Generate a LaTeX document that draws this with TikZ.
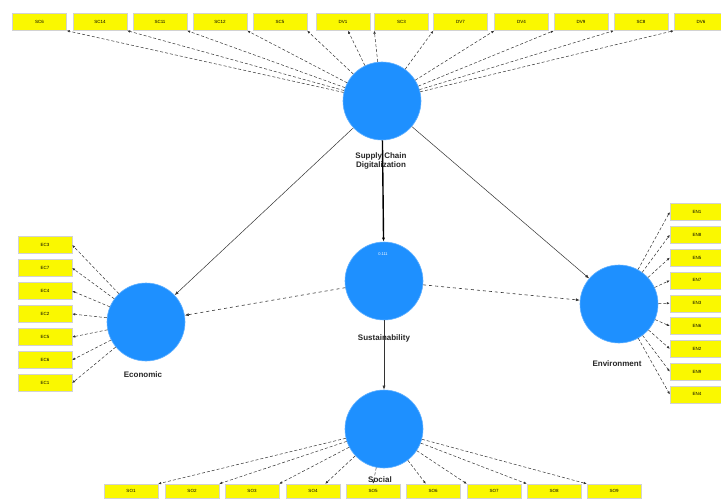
\documentclass[tikz,border=0pt]{standalone}
\usepackage{fontspec}
\setmainfont{Liberation Sans}
\usetikzlibrary{arrows.meta}
\definecolor{lvblue}{RGB}{30,144,255}
\definecolor{indyellow}{RGB}{250,248,0}
\begin{document}
\begin{tikzpicture}[x=1pt,y=-1pt,
  latent/.style={circle,fill=lvblue,draw=lvblue!70!white,line width=0.6pt,minimum size=78pt,inner sep=0pt},
  ind/.style={rectangle,fill=indyellow,draw=gray!35,line width=0.4pt,minimum width=54pt,minimum height=17pt,inner sep=0pt,font=\fontsize{4.5}{5}\selectfont},
  lvlabel/.style={font=\fontsize{8}{9.5}\selectfont\bfseries,align=center,text=black!85},
  load/.style={-{Latex[length=3pt,width=2.5pt]},densely dashed,line width=0.5pt,black!80},
  struct/.style={-{Latex[length=4pt,width=3pt]},line width=0.5pt,black!80},
  structdash/.style={-{Latex[length=4pt,width=3pt]},dashed,line width=0.6pt,black!80}
]
\useasboundingbox (0,0) rectangle (721,500);
\fill[white] (0,0) rectangle (721,500);

% latent variables
\node[latent] (scd) at (382,101) {};
\node[latent] (sus) at (384,281) {};
\node[latent] (eco) at (146,322) {};
\node[latent] (env) at (619,304) {};
\node[latent] (soc) at (384,429) {};

\node[font=\fontsize{4}{4}\selectfont,text=white] (r2) at (383,254) {0.111};

% top indicators
\foreach \lab/\xx [count=\i] in {SC6/39.5,SC14/100,SC11/160,SC12/220,SC5/280,DV1/343,SC3/401.5,DV7/460.5,DV4/521.5,DV9/581,SC8/641,DV6/701}{
  \node[ind] (t\i) at (\xx,22) {\lab};
}
\foreach \i in {1,...,5}{\draw[load] (scd) -- (t\i.south east);}
\draw[load] (scd) -- ([xshift=5pt]t6.south);
\foreach \i in {7,...,12}{\draw[load] (scd) -- (t\i.south west);}

% left indicators
\foreach \lab [count=\i] in {EC3,EC7,EC4,EC2,EC5,EC6,EC1}{
  \node[ind] (l\i) at (45,{245+23*(\i-1)}) {\lab};
}
\foreach \i in {1,...,7}{\draw[load] (eco) -- (l\i.east);}

% right indicators
\foreach \lab [count=\i] in {EN1,EN8,EN5,EN7,EN3,EN6,EN2,EN9,EN4}{
  \node[ind] (r\i) at (697,{212+22.8*(\i-1)}) {\lab};
}
\foreach \i in {1,...,9}{\draw[load] (env) -- (r\i.west);}

% bottom indicators
\foreach \lab/\xx [count=\i] in {SO1/131,SO2/192,SO3/252,SO4/313,SO5/373,SO6/433,SO7/494,SO8/554,SO9/614}{
  \node[ind,minimum height=14pt] (b\i) at (\xx,491) {\lab};
}
\foreach \i in {1,...,3}{\draw[load] (soc) -- (b\i.north east);}
\draw[load] (soc) -- ([xshift=-15pt]b4.north east);
\draw[load] (soc) -- (b5.north);
\draw[load] (soc) -- ([xshift=20pt]b6.north west);
\foreach \i in {7,...,9}{\draw[load] (soc) -- (b\i.north west);}

% structural paths
\draw[-{Latex[length=4pt,width=3pt]},line width=1.4pt,black] (scd) -- (sus);
\draw[struct] (scd) -- (eco);
\draw[struct] (scd) -- (env);
\draw[structdash] (sus) -- (eco);
\draw[structdash] (sus) -- (env);
\draw[struct] (sus) -- (soc);

% construct labels
\node[lvlabel] (scdl) at (381,161) {Supply Chain\\Digitalization};
\node[lvlabel] (susl) at (384,338) {Sustainability};
\node[lvlabel] (ecol) at (143,375) {Economic};
\node[lvlabel] (envl) at (617,364) {Environment};
\node[lvlabel] (socl) at (380,480) {Social};
\end{tikzpicture}
\end{document}
